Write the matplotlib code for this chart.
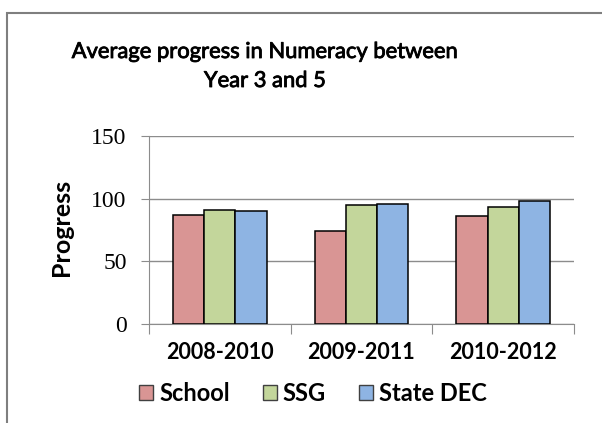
import matplotlib.pyplot as plt
import matplotlib.patches as mpatches
import matplotlib.patheffects as pe
import numpy as np

periods = ["2008-2010", "2009-2011", "2010-2012"]
school = [87, 74, 86]
ssg = [91, 95, 93]
state_dec = [90, 96, 98]
series_names = ["School", "SSG", "State DEC"]
colors = ["#d99594", "#c3d69b", "#8eb4e3"]

fig = plt.figure(figsize=(6.02, 4.23), dpi=100)
# outer chart frame (cut off at right and bottom like the screenshot)
fig.patches.append(mpatches.Rectangle((7 / 602, -0.1), 1.2, 1 - 13 / 423 + 0.1,
                                      transform=fig.transFigure, fill=False,
                                      edgecolor="#7f7f7f", linewidth=1.5))

ax = fig.add_axes([149 / 602, 1 - 324 / 423, (574 - 149) / 602, (324 - 136) / 423])
x = np.arange(len(periods))
w = 0.22
for i, (vals, name) in enumerate(zip([school, ssg, state_dec], series_names)):
    ax.bar(x + (i - 1) * w, vals, w, color=colors[i], edgecolor="black",
           linewidth=1.1, label=name, zorder=3)

ax.set_xlim(-0.5, 2.5)
ax.set_ylim(0, 150)
ax.set_yticks([0, 50, 100, 150])
ax.yaxis.grid(True, color="#8c8c8c", linewidth=1, zorder=0)
for s in ["top", "right"]:
    ax.spines[s].set_visible(False)
for s in ["left", "bottom"]:
    ax.spines[s].set_color("#8c8c8c")
ax.set_xticks([-0.5, 0.5, 1.5, 2.5], minor=False)
ax.set_xticklabels([])
ax.set_xticks(x, minor=True)
ax.set_xticklabels(periods, minor=True, fontsize=15.5, fontweight="bold",
                   family="Lato")
ax.tick_params(axis="x", which="major", length=7, color="#8c8c8c")
ax.tick_params(axis="x", which="minor", length=0, pad=13)
ax.tick_params(axis="y", length=6, color="#8c8c8c", labelsize=17, pad=10)
for t in ax.get_yticklabels():
    t.set_family("Liberation Serif")

ax.set_ylabel("Progress", fontsize=18, fontweight="bold", family="Lato")
ax.yaxis.set_label_coords(-0.179, 0.513)

title_fx = [pe.withStroke(linewidth=0.6, foreground="black")]
fig.text(265 / 602, 1 - 58 / 423, "Average progress in Numeracy between",
         ha="center", va="baseline", fontsize=15.8, family="Lato", path_effects=title_fx)
fig.text(265 / 602, 1 - 87 / 423, "Year 3 and 5",
         ha="center", va="baseline", fontsize=15.8, family="Lato", path_effects=title_fx)

handles = [mpatches.Patch(facecolor=c, edgecolor="#404040", label=n)
           for c, n in zip(colors, series_names)]
fig.legend(handles=handles, loc="center", bbox_to_anchor=(313 / 602, 1 - 393 / 423),
           ncol=3, frameon=False, prop={"family": "Lato", "weight": "bold", "size": 17},
           handlelength=0.6, handleheight=0.6, handletextpad=0.25, columnspacing=1.4,
           borderpad=0)

fig.savefig("out.png", dpi=100)
